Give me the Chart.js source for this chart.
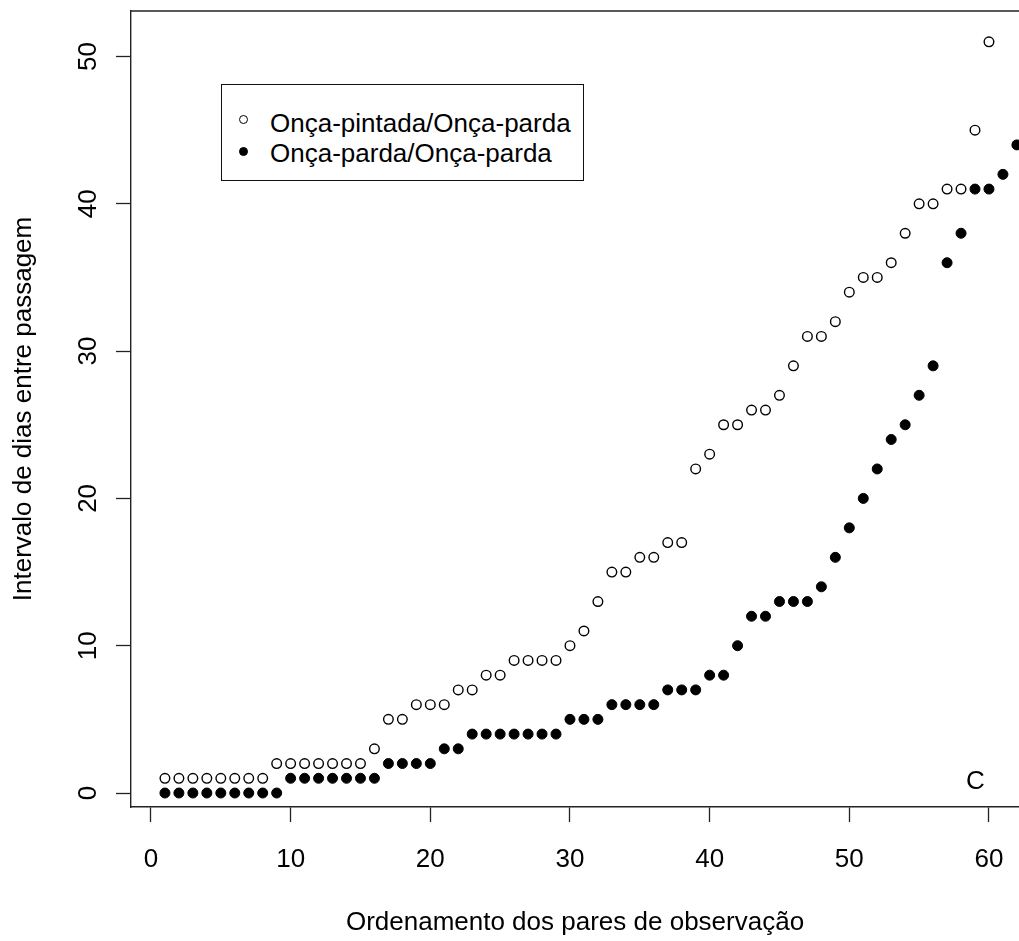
<!DOCTYPE html>
<html>
<head>
<meta charset="utf-8">
<script src="https://cdn.jsdelivr.net/npm/chart.js@4.4.1/dist/chart.umd.min.js"></script>
<style>
  html, body { margin: 0; padding: 0; background: #fff; overflow: hidden; }
  #wrap { position: relative; width: 1019px; height: 941px; font-family: "Liberation Sans", Arial, sans-serif; color: #000; }
  #chart { position: absolute; left: 0; top: 0; }
  .legend { position: absolute; left: 221px; top: 84px; width: 363px; height: 97px; border: 1.3px solid #111; box-sizing: border-box; background: #fff; }
  .legend .txt { position: absolute; left: 48px; font-size: 26px; line-height: 30px; white-space: nowrap; }
  .legend .sym { position: absolute; left: 17px; width: 9px; height: 9px; border-radius: 50%; box-sizing: border-box; border: 1.3px solid #000; }
  .legend .sym.filled { background: #000; }
  .panel { position: absolute; left: 966px; top: 765px; font-size: 26px; line-height: 30px; }
</style>
</head>
<body>
<div id="wrap">
  <canvas id="chart" width="1019" height="941"></canvas>
  <div class="legend">
    <div class="sym" style="top:29.5px"></div>
    <div class="txt" style="top:23px">Onça-pintada/Onça-parda</div>
    <div class="sym filled" style="top:61.5px"></div>
    <div class="txt" style="top:53px">Onça-parda/Onça-parda</div>
  </div>
  <div class="panel">C</div>
</div>
<script>
// ---- data ----
const seriesLabels = ["Onça-pintada/Onça-parda", "Onça-parda/Onça-parda"];
// interval (days) for each ordered pair, pintada/parda pairs (open circles)
const pintadaParda = [1,1,1,1,1,1,1,1,2,2,2,2,2,2,2,3,5,5,6,6,6,7,7,8,8,9,9,9,9,10,
                      11,13,15,15,16,16,17,17,22,23,25,25,26,26,27,29,31,31,32,34,
                      35,35,36,38,40,40,41,41,45,51];
// parda/parda pairs (filled circles)
const pardaParda = [0,0,0,0,0,0,0,0,0,1,1,1,1,1,1,1,2,2,2,2,3,3,4,4,4,4,4,4,4,5,
                    5,5,6,6,6,6,7,7,7,8,8,10,12,12,13,13,13,14,16,18,20,22,24,25,27,
                    29,36,38,41,41,42,44];
const xTickValues = [0, 10, 20, 30, 40, 50, 60];
const yTickValues = [0, 10, 20, 30, 40, 50];
const xTitle = "Ordenamento dos pares de observação";
const yTitle = "Intervalo de dias entre passagem";

// ---- chart ----
const FONT = '"Liberation Sans", Arial, sans-serif';
const toPoints = arr => arr.map((v, i) => ({ x: i + 1, y: v }));

const frameTop = {
  id: 'frameTop',
  afterDraw(chart) {
    const { ctx, chartArea: a } = chart;
    ctx.save();
    ctx.strokeStyle = '#222';
    ctx.lineWidth = 1.4;
    ctx.beginPath();
    ctx.moveTo(a.left, a.top);
    ctx.lineTo(a.right + 2, a.top);
    ctx.stroke();
    ctx.restore();
  }
};
const zeroPad = s => { s.paddingTop = 0; s.paddingBottom = 0; s.paddingLeft = 0; s.paddingRight = 0; };

new Chart(document.getElementById('chart'), {
  type: 'scatter',
  data: {
    datasets: [
      {
        label: seriesLabels[0],
        data: toPoints(pintadaParda),
        pointStyle: 'circle',
        pointRadius: 4.8,
        pointHoverRadius: 4.8,
        backgroundColor: 'rgba(0,0,0,0)',
        borderColor: '#000',
        borderWidth: 1.4
      },
      {
        label: seriesLabels[1],
        data: toPoints(pardaParda),
        pointStyle: 'circle',
        pointRadius: 5,
        pointHoverRadius: 5,
        backgroundColor: '#000',
        borderColor: '#000',
        borderWidth: 1
      }
    ]
  },
  options: {
    responsive: false,
    animation: false,
    events: [],
    layout: { padding: { top: 11, left: 0, right: 0, bottom: 0 }, autoPadding: false },
    plugins: { legend: { display: false }, tooltip: { enabled: false } },
    scales: {
      x: {
        type: 'linear',
        min: -1.43,
        max: 62.15,
        afterBuildTicks: s => { s.ticks = xTickValues.map(v => ({ value: v })); },
        afterFit: s => { s.height = 134; zeroPad(s); },
        ticks: { font: { family: FONT, size: 26 }, color: '#000', padding: 22, maxRotation: 0, autoSkip: false },
        grid: { display: true, drawOnChartArea: false, drawTicks: true, tickLength: 15, tickColor: '#222', tickWidth: 1.3 },
        border: { display: true, color: '#222', width: 1.4 },
        title: { display: true, text: xTitle, font: { family: FONT, size: 26 }, color: '#000', padding: { top: 0, bottom: 3 } }
      },
      y: {
        type: 'linear',
        min: -0.95,
        max: 53.09,
        afterBuildTicks: s => { s.ticks = yTickValues.map(v => ({ value: v })); },
        afterFit: s => { s.width = 131; zeroPad(s); },
        ticks: { font: { family: FONT, size: 26 }, color: '#000', padding: 13, minRotation: 90, maxRotation: 90, crossAlign: 'center', autoSkip: false },
        grid: { display: true, drawOnChartArea: false, drawTicks: true, tickLength: 15, tickColor: '#222', tickWidth: 1.3 },
        border: { display: true, color: '#222', width: 1.4 },
        title: { display: true, text: yTitle, font: { family: FONT, size: 26 }, color: '#000', padding: { top: 8, bottom: 0 } }
      }
    }
  },
  plugins: [frameTop]
});
</script>
</body>
</html>
